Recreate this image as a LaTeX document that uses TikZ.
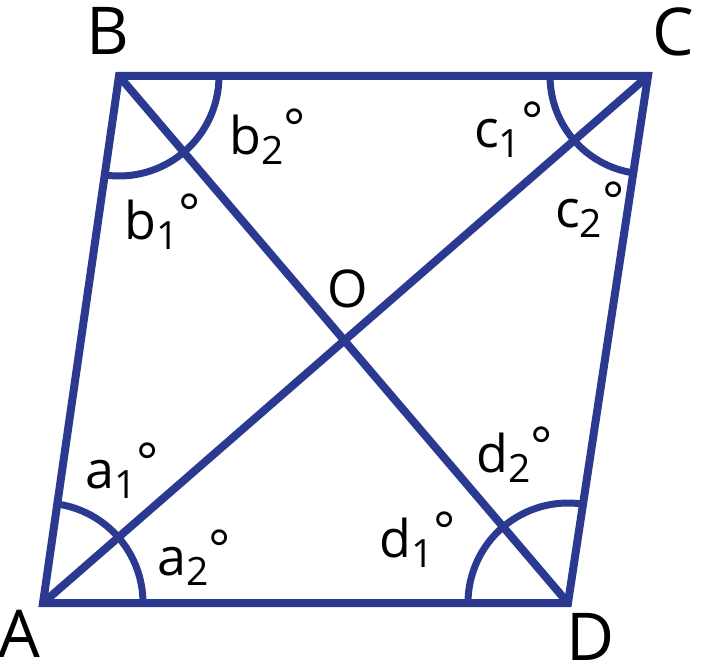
\documentclass[tikz,border=0pt]{standalone}
\usepackage{fontspec}
\setmainfont{Open Sans}
\definecolor{geo}{RGB}{43,57,144}
\newcommand{\angl}[2]{{\fontsize{52}{52}\selectfont #1}\raisebox{-10pt}{\fontsize{39}{39}\selectfont #2}\raisebox{8pt}{\fontsize{52}{52}\selectfont °}}
\tikzset{
  edge/.style={draw=geo,line width=8pt},
  arcline/.style={draw=geo,line width=7pt},
  vlabel/.style={inner sep=0pt,anchor=base west,font=\fontsize{66}{66}\selectfont},
  alabel/.style={inner sep=0pt,anchor=base west},
}
\begin{document}
\begin{tikzpicture}[x=1pt,y=1pt]
\useasboundingbox (0,0) rectangle (701,665);
\coordinate (A) at (43,62);
\coordinate (B) at (119,589);
\coordinate (C) at (648,589);
\coordinate (D) at (568,62);
\coordinate (O) at (344.4,324.5);
% arcs
\draw[arcline] ([shift={(0:100)}]A) arc[start angle=0,end angle=81.8,radius=100];
\draw[arcline] ([shift={(261.8:100)}]B) arc[start angle=261.8,end angle=360,radius=100];
\draw[arcline] ([shift={(180:98)}]C) arc[start angle=180,end angle=261.4,radius=98];
\draw[arcline] ([shift={(81.4:100)}]D) arc[start angle=81.4,end angle=180,radius=100];
% sides and diagonals
\draw[edge] (A) -- (B) -- (C) -- (D) -- cycle;
\draw[edge] (A) -- (C);
\draw[edge] (B) -- (D);
% vertex labels
\node[vlabel] (lA) at (-2,8) {A};
\node[vlabel] (lB) at (86,610) {B};
\node[vlabel] (lC) at (652,609) {C};
\node[vlabel] (lD) at (566,5) {D};
\node[vlabel,font=\fontsize{52}{52}\selectfont] (lO) at (327,358) {O};
% angle labels
\node[alabel] (b2) at (229,510) {\angl{b}{2}};
\node[alabel] (b1) at (124,425) {\angl{b}{1}};
\node[alabel] (c1) at (474,517) {\angl{c}{1}};
\node[alabel] (c2) at (555,437) {\angl{c}{2}};
\node[alabel] (a1) at (85,177) {\angl{a}{1}};
\node[alabel] (a2) at (157,90) {\angl{a}{2}};
\node[alabel] (d1) at (379,108) {\angl{d}{1}};
\node[alabel] (d2) at (476,193) {\angl{d}{2}};
\end{tikzpicture}
\end{document}
